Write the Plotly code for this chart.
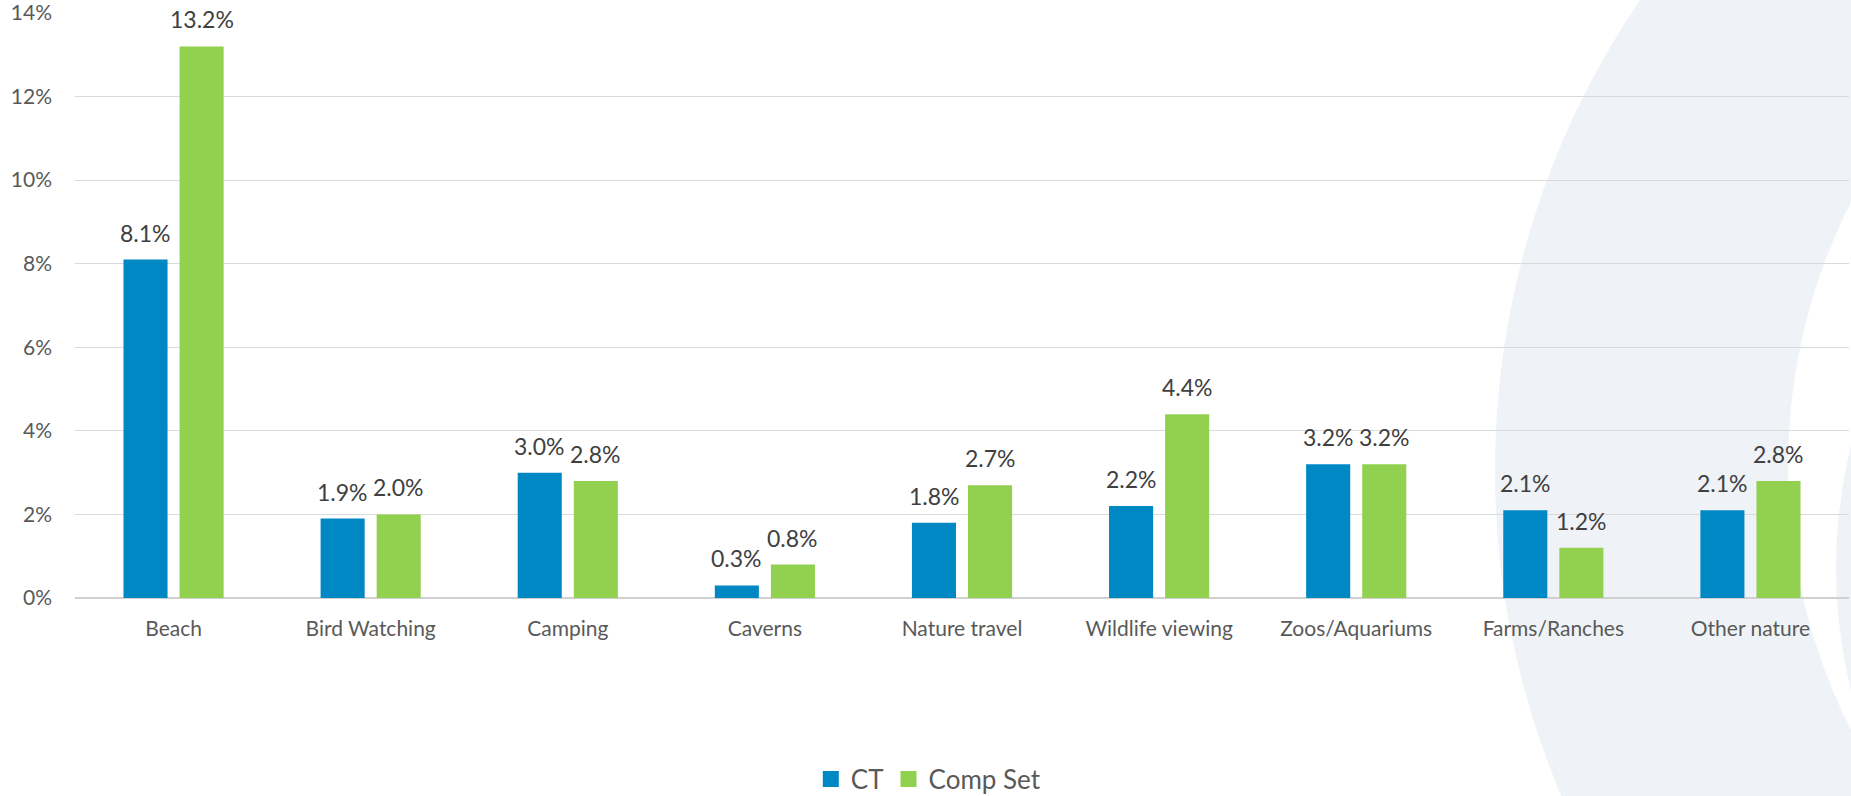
import plotly.graph_objects as go

# Share of trips by nature activity
categories = ["Beach", "Bird Watching", "Camping", "Caverns", "Nature travel",
              "Wildlife viewing", "Zoos/Aquariums", "Farms/Ranches", "Other nature"]
ct_values = [8.1, 1.9, 3.0, 0.3, 1.8, 2.2, 3.2, 2.1, 2.1]
comp_values = [13.2, 2.0, 2.8, 0.8, 2.7, 4.4, 3.2, 1.2, 2.8]
y_ticks = [0, 2, 4, 6, 8, 10, 12, 14]
series_names = ["CT", "Comp Set"]

BLUE = "#0088C4"
GREEN = "#92D050"
TICK_GREY = "#595959"
LABEL_GREY = "#404040"
SHADE = "#EFF3F7"
FONT = "Lato, Calibri, sans-serif"

W, H = 1851, 796
M_L, M_R, M_T, M_B = 75, 2, 13, 198
PLOT_W = W - M_L - M_R
PLOT_H = H - M_T - M_B


def px_circle(cx, cy, r, color):
    """Circle given in page pixels, converted to paper coordinates."""
    return dict(
        type="circle", xref="paper", yref="paper", layer="below",
        x0=(cx - r - M_L) / PLOT_W, x1=(cx + r - M_L) / PLOT_W,
        y0=(H - M_B - (cy + r)) / PLOT_H, y1=(H - M_B - (cy - r)) / PLOT_H,
        fillcolor=color, line=dict(width=0),
    )


fig = go.Figure()
for name, vals, color in ((series_names[0], ct_values, BLUE),
                          (series_names[1], comp_values, GREEN)):
    fig.add_trace(go.Bar(name=name, x=categories, y=vals, showlegend=False,
                         marker=dict(color=color, line=dict(width=0))))
    # legend entry with a larger square swatch
    fig.add_trace(go.Scatter(name=name, x=[None], y=[None], mode="markers",
                             marker=dict(symbol="square", size=16, color=color),
                             hoverinfo="skip"))

# value labels above each bar (bars sit 28px either side of the category centre)
annotations = []
for vals, shift in ((ct_values, -28), (comp_values, 28)):
    for cat, v in zip(categories, vals):
        annotations.append(dict(
            x=cat, y=v, xref="x", yref="y", text=f"{v:.1f}%",
            showarrow=False, xanchor="center", yanchor="bottom",
            xshift=shift, yshift=11,
            font=dict(family=FONT, size=23, color=LABEL_GREY),
        ))

# decorative rings behind the chart
shapes = [
    px_circle(2329, 470, 834, SHADE),
    px_circle(2373, 466, 585, "#FFFFFF"),
    px_circle(2340, 568, 504, SHADE),
]

fig.update_layout(
    width=W, height=H,
    margin=dict(l=M_L, r=M_R, t=M_T, b=M_B, autoexpand=False),
    paper_bgcolor="#FFFFFF",
    plot_bgcolor="rgba(0,0,0,0)",
    barmode="group",
    bargap=0.431,
    bargroupgap=0.214,
    font=dict(family=FONT, color=TICK_GREY),
    shapes=shapes,
    annotations=annotations,
    showlegend=True,
    legend=dict(
        orientation="h", x=0.481, xanchor="center",
        yref="container", y=1 - 779 / H, yanchor="middle",
        font=dict(family=FONT, size=26, color=TICK_GREY),
        bgcolor="rgba(0,0,0,0)", itemwidth=30, itemsizing="trace",
        traceorder="normal",
    ),
    xaxis=dict(
        showgrid=False, showline=False, ticks="",
        tickfont=dict(family=FONT, size=21, color=TICK_GREY),
        ticklabelstandoff=16, automargin=False,
    ),
    yaxis=dict(
        range=[0, 14], tickvals=y_ticks,
        ticktext=[f"{t}%" for t in y_ticks],
        showgrid=True, gridcolor="#DADADA", gridwidth=1.3,
        zeroline=True, zerolinecolor="#D0D0D0", zerolinewidth=2,
        showline=False, ticks="",
        tickfont=dict(family=FONT, size=21, color=TICK_GREY),
        ticklabelstandoff=22, ticklabeloverflow="allow", automargin=False,
    ),
)

fig.write_html("out.html")
